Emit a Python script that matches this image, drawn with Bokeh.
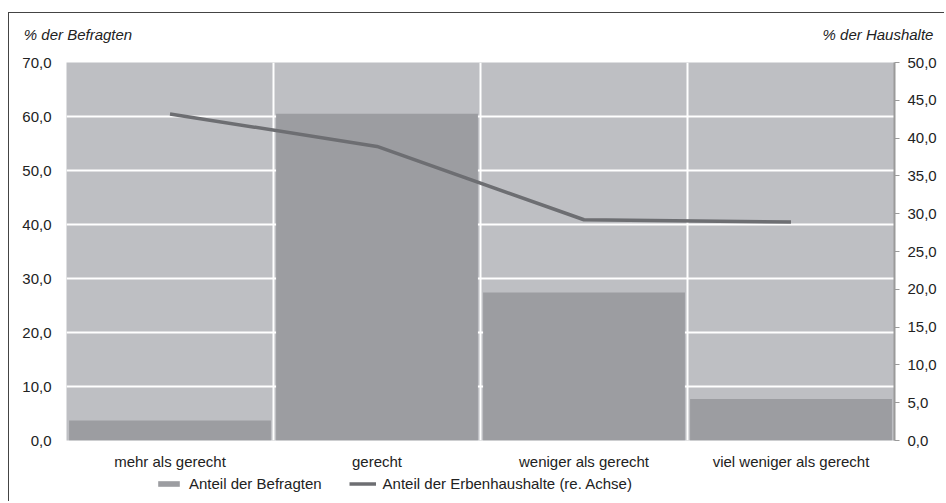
from bokeh.plotting import figure
from bokeh.layouts import column
from bokeh.models import (Range1d, LinearAxis, FixedTicker, CustomJSTickFormatter,
                          Legend, LegendItem, ColumnDataSource)
from bokeh.embed import file_html
from bokeh.resources import INLINE

categories = ["mehr als gerecht", "gerecht", "weniger als gerecht", "viel weniger als gerecht"]
anteil_befragten = [3.7, 60.5, 27.4, 7.7]
anteil_erbenhaushalte = [43.2, 38.9, 29.2, 28.9]
left_ticks = [0, 10, 20, 30, 40, 50, 60, 70]
right_ticks = [0, 5, 10, 15, 20, 25, 30, 35, 40, 45, 50]
axis_titles = ["% der Befragten", "% der Haushalte"]
legend_labels = ["Anteil der Befragten", "Anteil der Erbenhaushalte (re. Achse)"]

FONT = "Liberation Sans"
TXT = "#222222"
BG = "#bebfc3"
BAR = "#9c9da1"
LINE = "#6d6e72"
FW, FH = 828, 378
BL, BR, BT, BB = 57, 51, 49, 32
W = BL + FW + BR

xs = list(range(len(categories)))
src = ColumnDataSource(dict(x=xs, cat=categories, bef=anteil_befragten, erb=anteil_erbenhaushalte))

p = figure(frame_width=FW, frame_height=FH,
           x_range=Range1d(-0.5, len(categories) - 0.5), y_range=Range1d(0, 70),
           output_backend="svg", toolbar_location=None,
           min_border_left=BL, min_border_right=BR, min_border_top=BT, min_border_bottom=BB,
           background_fill_color=BG, border_fill_color="white", outline_line_color=None)
p.extra_y_ranges = {"right": Range1d(0, 50)}
p.extra_x_ranges = {"ttl": Range1d(0, FW)}

fmt = CustomJSTickFormatter(code="return tick.toFixed(1).replace('.', ',');")


def style_labels(ax):
    ax.major_label_text_font = FONT
    ax.major_label_text_font_size = "15px"
    ax.major_label_text_color = TXT
    ax.minor_tick_line_color = None


# x axis (categories)
xa = p.below[0]
xa.ticker = FixedTicker(ticks=xs)
xa.major_label_overrides = {i: c for i, c in zip(xs, categories)}
xa.axis_line_color = None
xa.major_tick_line_color = None
xa.major_tick_out = 0
xa.major_label_standoff = 12
style_labels(xa)

# left axis
ya = p.left[0]
ya.ticker = FixedTicker(ticks=left_ticks)
ya.formatter = fmt
ya.axis_line_color = None
ya.major_tick_line_color = None
ya.major_tick_out = 0
ya.major_label_standoff = 15
style_labels(ya)

# right axis
ra = LinearAxis(y_range_name="right", ticker=FixedTicker(ticks=right_ticks), formatter=fmt)
ra.axis_line_color = "#9a9a9a"
ra.axis_line_width = 2
ra.major_tick_line_color = "#9a9a9a"
ra.major_tick_out = 5
ra.major_tick_in = 0
ra.major_label_standoff = 8
style_labels(ra)
p.add_layout(ra, "right")

# axis titles (top, italic) carried by an invisible top axis
title_pos = [11.5, FW - 16.5]
ta = LinearAxis(x_range_name="ttl", ticker=FixedTicker(ticks=title_pos))
ta.major_label_overrides = {pos: t for pos, t in zip(title_pos, axis_titles)}
ta.axis_line_color = None
ta.major_tick_line_color = None
ta.major_tick_out = 0
ta.major_label_standoff = 20
style_labels(ta)
ta.major_label_text_font_style = "italic"
p.add_layout(ta, "above")

# grids
p.xgrid.ticker = FixedTicker(ticks=[i + 0.5 for i in xs[:-1]])
p.xgrid.grid_line_color = "white"
p.xgrid.grid_line_width = 2
p.ygrid.ticker = FixedTicker(ticks=left_ticks[1:-1])
p.ygrid.grid_line_color = "white"
p.ygrid.grid_line_width = 2

bars = p.vbar(x="x", top="bef", width=0.975, source=src, fill_color=BAR, line_color=None)
ln = p.line(x="x", y="erb", source=src, y_range_name="right", line_width=3.5, line_color=LINE)

# legend strip below the chart (zero-size proxy glyphs with identical styling)
LH = 30
lf = figure(width=W, height=LH, x_range=Range1d(0, 1), y_range=Range1d(0, 1),
            output_backend="svg", toolbar_location=None,
            x_axis_location=None, y_axis_location=None,
            min_border=0, outline_line_color=None,
            background_fill_color="white", border_fill_color="white")
lf.grid.visible = False
pbar = lf.vbar(x=[0.5], top=[0], bottom=[0], width=0.0, fill_color=BAR, line_color=None)
pln = lf.line(x=[0.5], y=[0.5], line_width=3.5, line_color=LINE)

legend = Legend(items=[LegendItem(label=legend_labels[0], renderers=[pbar]),
                       LegendItem(label=legend_labels[1], renderers=[pln])],
                orientation="horizontal", location=(89, 10),
                glyph_width=27, glyph_height=7, label_height=7, label_standoff=7, spacing=27,
                padding=0, margin=0, border_line_color=None, background_fill_alpha=0,
                label_text_font=FONT, label_text_font_size="15px", label_text_color=TXT)
lf.add_layout(legend)

layout = column(p, lf, spacing=0,
                styles={"margin-left": "9px", "margin-top": "13px",
                        "box-shadow": "-1px -1px 0 0 #444444"})

open("out.html", "w").write(file_html(layout, INLINE))
